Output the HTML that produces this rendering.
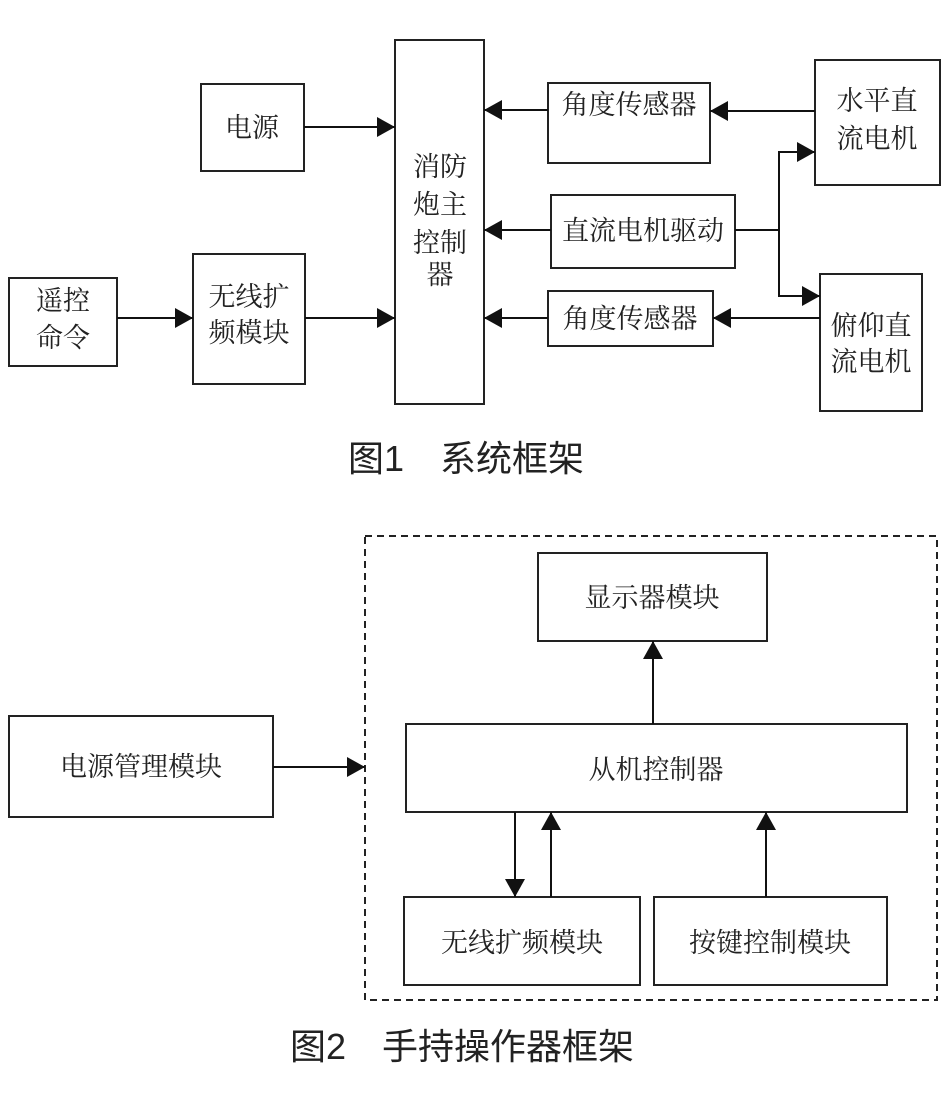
<!DOCTYPE html>
<html><head><meta charset="utf-8"><style>
html,body{margin:0;padding:0;background:#fff;}
svg text{font-family:"Liberation Serif","Noto Serif CJK SC","Noto Sans CJK SC",serif;fill:#222;}
.cap{font-family:"Liberation Sans","Noto Sans CJK SC",sans-serif !important;font-size:36px;}
</style></head><body>
<svg width="948" height="1093" viewBox="0 0 948 1093" xmlns="http://www.w3.org/2000/svg">
<defs>
<marker id="b" markerWidth="18" markerHeight="20" refX="18" refY="10" orient="auto" markerUnits="userSpaceOnUse" viewBox="0 0 18 20">
<path d="M0,0 L18,10 L0,20 z" fill="#111"/></marker>
</defs>
<g fill="none" stroke="#222" stroke-width="2">
<rect x="201" y="84" width="103" height="87"/>
<rect x="395" y="40" width="89" height="364"/>
<rect x="9" y="278" width="108" height="88"/>
<rect x="193" y="254" width="112" height="130"/>
<rect x="548" y="83" width="162" height="80"/>
<rect x="815" y="60" width="125" height="125"/>
<rect x="551" y="195" width="184" height="73"/>
<rect x="548" y="291" width="165" height="55"/>
<rect x="820" y="274" width="102" height="137"/>
</g>
<g stroke="#111" stroke-width="2" fill="none">
<line x1="304" y1="127" x2="395" y2="127" marker-end="url(#b)"/>
<line x1="117" y1="318" x2="193" y2="318" marker-end="url(#b)"/>
<line x1="305" y1="318" x2="395" y2="318" marker-end="url(#b)"/>
<line x1="548" y1="110" x2="484" y2="110" marker-end="url(#b)"/>
<line x1="815" y1="111" x2="710" y2="111" marker-end="url(#b)"/>
<line x1="551" y1="230" x2="484" y2="230" marker-end="url(#b)"/>
<line x1="548" y1="318" x2="484" y2="318" marker-end="url(#b)"/>
<line x1="820" y1="318" x2="713" y2="318" marker-end="url(#b)"/>
<line x1="735" y1="230" x2="779" y2="230"/>
<polyline points="779,296 779,152 815,152" marker-end="url(#b)"/>
<polyline points="779,230 779,296 820,296" marker-end="url(#b)"/>
</g>
<g font-size="27" text-anchor="middle">
<text x="252" y="137">电源</text>
<text x="440" y="176">消防</text>
<text x="440" y="214">炮主</text>
<text x="440" y="252">控制</text>
<text x="440" y="284">器</text>
<text x="63" y="310">遥控</text>
<text x="63" y="347">命令</text>
<text x="249" y="306">无线扩</text>
<text x="249" y="342">频模块</text>
<text x="629" y="114">角度传感器</text>
<text x="877" y="110">水平直</text>
<text x="877" y="148">流电机</text>
<text x="643" y="240">直流电机驱动</text>
<text x="630" y="328">角度传感器</text>
<text x="871" y="335">俯仰直</text>
<text x="871" y="371">流电机</text>
</g>
<text class="cap" x="348" y="471">图1　系统框架</text>

<rect x="365" y="536" width="572" height="464" fill="none" stroke="#222" stroke-width="2" stroke-dasharray="7,5"/>
<g fill="none" stroke="#222" stroke-width="2">
<rect x="538" y="553" width="229" height="88"/>
<rect x="406" y="724" width="501" height="88"/>
<rect x="9" y="716" width="264" height="101"/>
<rect x="404" y="897" width="236" height="88"/>
<rect x="654" y="897" width="233" height="88"/>
</g>
<g stroke="#111" stroke-width="2" fill="none">
<line x1="653" y1="724" x2="653" y2="641" marker-end="url(#b)"/>
<line x1="273" y1="767" x2="365" y2="767" marker-end="url(#b)"/>
<line x1="515" y1="812" x2="515" y2="897" marker-end="url(#b)"/>
<line x1="551" y1="897" x2="551" y2="812" marker-end="url(#b)"/>
<line x1="766" y1="897" x2="766" y2="812" marker-end="url(#b)"/>
</g>
<g font-size="27" text-anchor="middle">
<text x="652" y="607">显示器模块</text>
<text x="656" y="779">从机控制器</text>
<text x="141" y="776">电源管理模块</text>
<text x="522" y="952">无线扩频模块</text>
<text x="770" y="952">按键控制模块</text>
</g>
<text class="cap" x="290" y="1059">图2　手持操作器框架</text>
</svg>
</body></html>
